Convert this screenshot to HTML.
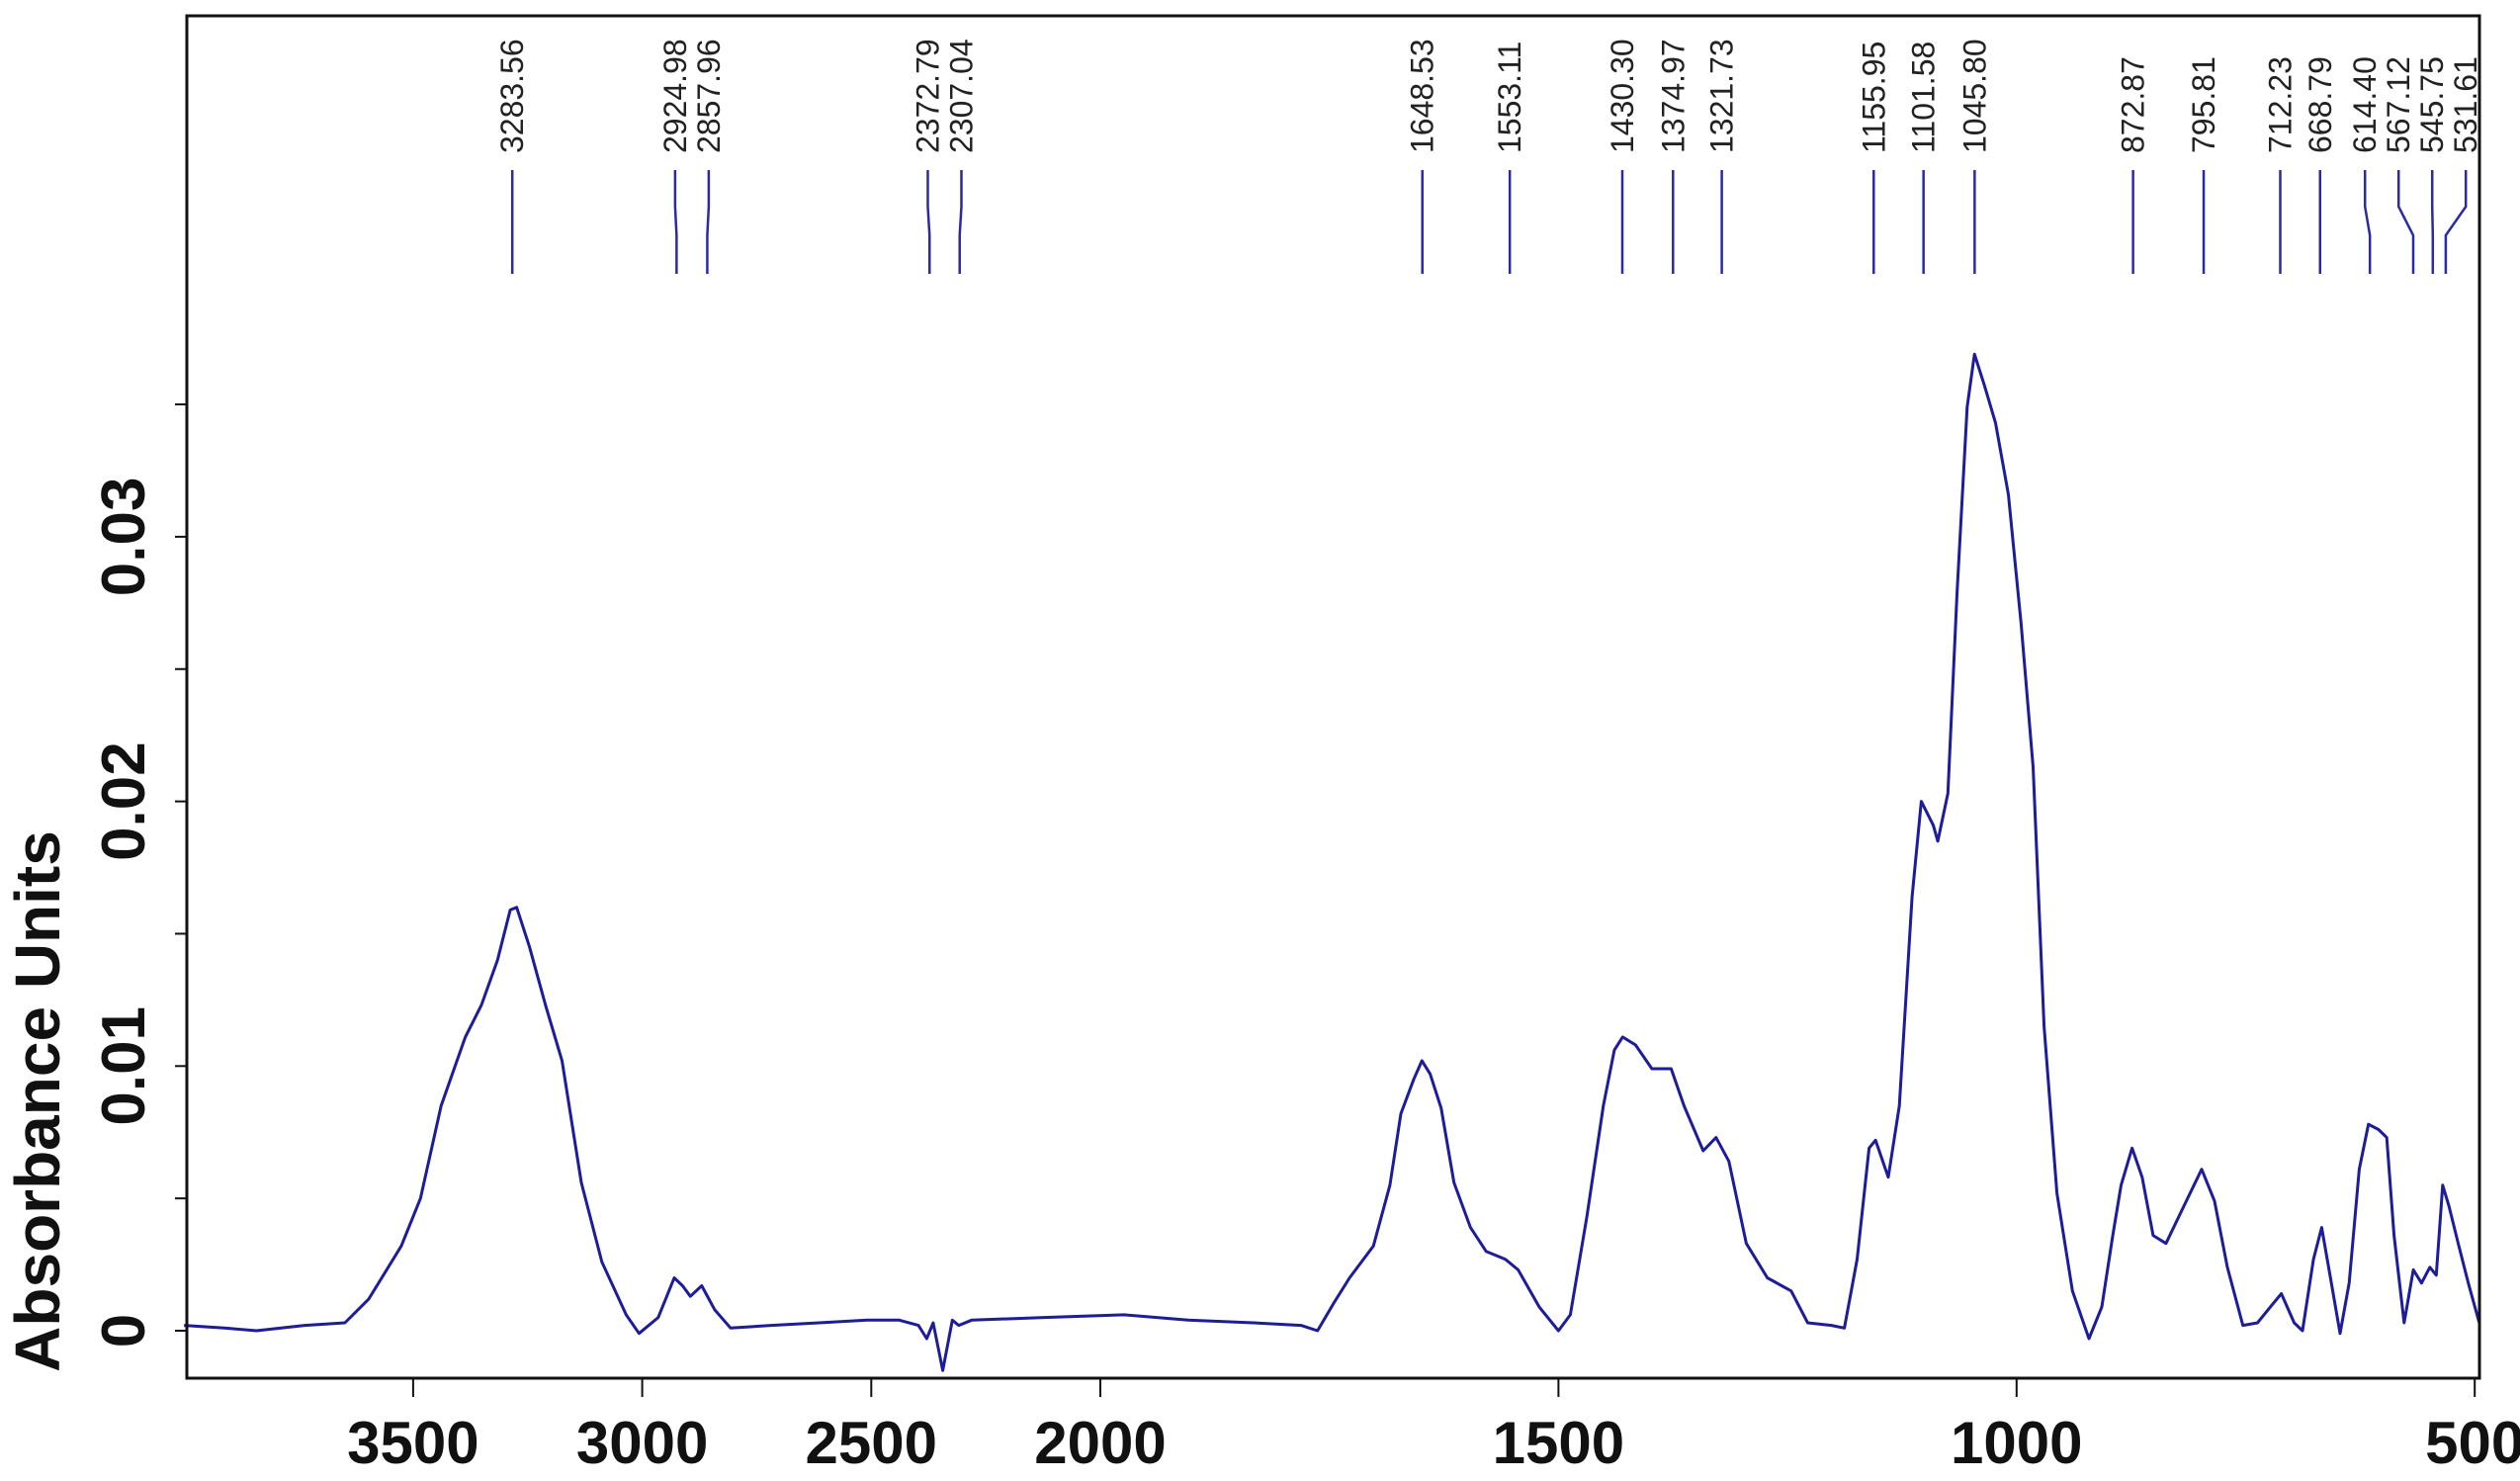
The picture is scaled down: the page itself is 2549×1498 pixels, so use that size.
<!DOCTYPE html>
<html><head><meta charset="utf-8"><style>
html,body{margin:0;padding:0;background:#fff;}
svg{display:block;}
</style></head><body>
<svg id="chart" width="2549" height="1498" viewBox="0 0 2549 1498" xmlns="http://www.w3.org/2000/svg"></svg>
<script>
const wavenumbers = [4000,3912,3842,3737,3649,3597,3526,3484,3439,3386,3351,3316,3288,3274,3246,3211,3175,3133,3088,3035,3007,2965,2930,2912,2895,2870,2842,2807,2719,2614,2509,2439,2397,2379,2365,2344,2323,2309,2281,2123,1974,1904,1833,1781,1763,1746,1728,1702,1684,1672,1658,1649,1640,1628,1614,1596,1579,1558,1544,1521,1500,1487,1469,1451,1439,1430,1416,1398,1377,1363,1342,1328,1314,1295,1272,1246,1228,1202,1188,1174,1161,1154,1140,1128,1114,1104,1091,1086,1075,1065,1054,1046,1035,1023,1009,995,982,970,956,939,921,907,895,886,874,863,851,837,819,798,784,770,753,737,723,711,697,688,676,667,658,647,637,626,616,605,596,588,577,567,558,549,542,535,528,518,507,495];
const absorbance = [0.0002,0.0001,0.0000,0.0002,0.0003,0.0012,0.0032,0.0050,0.0085,0.0111,0.0123,0.0140,0.0159,0.0160,0.0145,0.0123,0.0102,0.0056,0.0026,0.0006,-0.0001,0.0005,0.0020,0.0017,0.0013,0.0017,0.0008,0.0001,0.0002,0.0003,0.0004,0.0004,0.0002,-0.0003,0.0003,-0.0015,0.0004,0.0002,0.0004,0.0005,0.0006,0.0004,0.0003,0.0002,0.0000,0.0010,0.0020,0.0032,0.0055,0.0082,0.0095,0.0102,0.0097,0.0084,0.0056,0.0039,0.0030,0.0027,0.0023,0.0009,0.0000,0.0006,0.0043,0.0085,0.0106,0.0111,0.0108,0.0099,0.0099,0.0085,0.0068,0.0073,0.0064,0.0033,0.0020,0.0015,0.0003,0.0002,0.0001,0.0027,0.0069,0.0072,0.0058,0.0085,0.0164,0.0200,0.0191,0.0185,0.0203,0.0279,0.0349,0.0369,0.0357,0.0343,0.0316,0.0267,0.0213,0.0115,0.0052,0.0015,-0.0003,0.0009,0.0036,0.0055,0.0069,0.0058,0.0036,0.0033,0.0046,0.0061,0.0049,0.0024,0.0002,0.0003,0.0009,0.0014,0.0003,0.0000,0.0027,0.0039,0.0021,-0.0001,0.0018,0.0061,0.0078,0.0076,0.0073,0.0036,0.0003,0.0023,0.0018,0.0024,0.0021,0.0055,0.0047,0.0033,0.0018,0.0003];
const peakValues = [3283.56,2924.98,2857.96,2372.79,2307.04,1648.53,1553.11,1430.30,1374.97,1321.73,1155.95,1101.58,1045.80,872.87,795.81,712.23,668.79,614.40,567.12,545.75,531.61];
const peakLabels = ["3283.56","2924.98","2857.96","2372.79","2307.04","1648.53","1553.11","1430.30","1374.97","1321.73","1155.95","1101.58","1045.80","872.87","795.81","712.23","668.79","614.40","567.12","545.75","531.61"];
const yTicks = [0,0.01,0.02,0.03];
const yTickLabels = ["0","0.01","0.02","0.03"];
const yMinorTicks = [0.005,0.015,0.025,0.035];
const xTicks = [3500,3000,2500,2000,1500,1000,500];
const xTickLabels = ["3500","3000","2500","2000","1500","1000","500"];

const NS="http://www.w3.org/2000/svg";
const svg=document.getElementById('chart');
const L=189,R=2508,T=16,B=1394;
function xOf(w){return w>=2000?1113-(w-2000)*0.4634:1113+(2000-w)*0.9268;}
function yOf(a){return 1346-a*26770;}
function mk(tag,attrs){const e=document.createElementNS(NS,tag);for(const k in attrs)e.setAttribute(k,attrs[k]);svg.appendChild(e);return e;}

// spectrum
let d='';
for(let i=0;i<wavenumbers.length;i++){d+=(i?'L':'M')+xOf(wavenumbers[i]).toFixed(1)+' '+yOf(absorbance[i]).toFixed(1);}
const line=mk('path',{d:d,fill:'none',stroke:'#1c1c9c','stroke-width':3,'stroke-linejoin':'round'});



// frame
const frame=mk('rect',{x:L,y:T,width:R-L,height:B-T,fill:'none',stroke:'#111','stroke-width':3});



// y ticks
yTicks.forEach((v,i)=>{
  const y=yOf(v);
  const t=mk('line',{x1:L-12,x2:L,y1:y,y2:y,stroke:'#111','stroke-width':2});
  
  
  const tx=mk('text',{x:0,y:0,transform:`translate(146,${y}) rotate(-90)`,'text-anchor':'middle','font-family':'Liberation Sans, sans-serif','font-weight':'bold','font-size':62,fill:'#111'});
  tx.textContent=yTickLabels[i];
  
  
});
yMinorTicks.forEach(v=>{
  const y=yOf(v);
  const t=mk('line',{x1:L-12,x2:L,y1:y,y2:y,stroke:'#111','stroke-width':2});
  
  
});
// y title
const yt=mk('text',{x:0,y:0,transform:'translate(60,1114) rotate(-90)','text-anchor':'middle','font-family':'Liberation Sans, sans-serif','font-weight':'bold','font-size':64,fill:'#111'});
yt.textContent='Absorbance Units';



// x ticks
xTicks.forEach((v,i)=>{
  const x=xOf(v);
  const t=mk('line',{x1:x,x2:x,y1:B,y2:B+19,stroke:'#111','stroke-width':2});
  
  
  const tx=mk('text',{x:x,y:1480,'text-anchor':'middle','font-family':'Liberation Sans, sans-serif','font-weight':'bold','font-size':60,fill:'#111'});
  tx.textContent=xTickLabels[i];
  
  
});

// peak labels with spreading
const px=peakValues.map(xOf);
const lx=px.slice();
const gap=34;
for(let it=0;it<200;it++){
  for(let i=0;i<lx.length-1;i++){
    const g=lx[i+1]-lx[i];
    if(g<gap){const dd=(gap-g)/2;lx[i]-=dd;lx[i+1]+=dd;}
  }
}
peakValues.forEach((v,i)=>{
  const pl=mk('path',{d:`M${lx[i]} 172 L${lx[i]} 209 L${px[i]} 238 L${px[i]} 277`,fill:'none',stroke:'#2a2aa8','stroke-width':2.5});
  
  
  const tx=mk('text',{x:0,y:0,transform:`translate(${lx[i]+11},155) rotate(-90)`,'text-anchor':'start','font-family':'Liberation Sans, sans-serif','font-size':32,fill:'#222'});
  tx.textContent=peakLabels[i];
  
  
});
</script>
</body></html>
